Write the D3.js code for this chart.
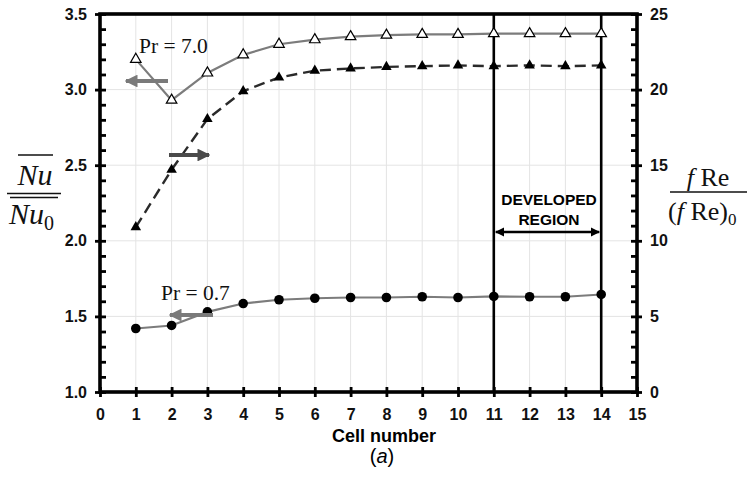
<!DOCTYPE html>
<html>
<head>
<meta charset="utf-8">
<script src="https://cdn.jsdelivr.net/npm/d3@7"></script>
<style>
  html, body { margin: 0; padding: 0; background: #fff; }
  svg { display: block; }
</style>
</head>
<body>
<svg id="chart" width="749" height="483"></svg>
<script>
// Cell-by-cell Nusselt-number and friction-factor ratios
const cells   = [1, 2, 3, 4, 5, 6, 7, 8, 9, 10, 11, 12, 13, 14];
const nuPr7   = [3.20, 2.93, 3.11, 3.23, 3.30, 3.33, 3.35, 3.36, 3.365, 3.365, 3.37, 3.37, 3.37, 3.37];
const fRePr7  = [10.9, 14.7, 18.05, 19.9, 20.8, 21.25, 21.4, 21.5, 21.55, 21.6, 21.55, 21.6, 21.55, 21.6];
const nuPr07  = [1.42, 1.44, 1.53, 1.585, 1.61, 1.62, 1.625, 1.625, 1.63, 1.625, 1.632, 1.63, 1.63, 1.645];
const xTicks      = d3.range(0, 16, 1);
const leftTicks   = [1.0, 1.5, 2.0, 2.5, 3.0, 3.5];
const leftMinor   = d3.range(10, 36, 1).map(v => v / 10);
const rightTicks  = [0, 5, 10, 15, 20, 25];
const rightMinor  = d3.range(0, 26, 1);
const developed   = [11, 14];

const svg = d3.select("#chart");
const L = 100, R = 637, T = 14, B = 392;

const serif = "'Liberation Serif', 'Times New Roman', serif";
const sans = "'Liberation Sans', Arial, sans-serif";

const x  = d3.scaleLinear().domain([0, 15]).range([L, R]);
const yL = d3.scaleLinear().domain([1, 3.5]).range([B, T]);
const yR = d3.scaleLinear().domain([0, 25]).range([B, T]);

// light grid
const grid = svg.append("g").attr("stroke", "#e4e4e4").attr("stroke-width", 1);
grid.selectAll("line.v").data(xTicks.filter(d => d > 0 && d < 15)).join("line")
  .attr("x1", d => x(d)).attr("x2", d => x(d)).attr("y1", T).attr("y2", B);
grid.selectAll("line.h").data(leftTicks.filter(d => d > 1 && d < 3.5)).join("line")
  .attr("x1", L).attr("x2", R).attr("y1", d => yL(d)).attr("y2", d => yL(d));

// developed-region bounds
svg.append("g").selectAll("line").data(developed).join("line")
  .attr("x1", d => x(d)).attr("x2", d => x(d)).attr("y1", T).attr("y2", B)
  .attr("stroke", "#000").attr("stroke-width", 2.6);

// arrow markers
const defs = svg.append("defs");
function marker(id, color, orient, size) {
  defs.append("marker").attr("id", id)
    .attr("viewBox", "0 0 10 10").attr("refX", 9).attr("refY", 5)
    .attr("markerWidth", size).attr("markerHeight", size)
    .attr("markerUnits", "strokeWidth").attr("orient", orient)
    .append("path").attr("d", "M0,0 L10,5 L0,10 Z").attr("fill", color);
}
marker("headGray", "#7a7a7a", "auto", 3.2);
marker("headDark", "#4a4a4a", "auto", 3.2);
marker("headBlack", "#000", "auto-start-reverse", 3.6);

// series lines
const lineL = d3.line().x((d, i) => x(cells[i])).y(d => yL(d));
const lineR = d3.line().x((d, i) => x(cells[i])).y(d => yR(d));

svg.append("path").datum(nuPr07).attr("d", lineL)
  .attr("fill", "none").attr("stroke", "#7c7c7c").attr("stroke-width", 2.2);
svg.append("path").datum(nuPr7).attr("d", lineL)
  .attr("fill", "none").attr("stroke", "#7c7c7c").attr("stroke-width", 2.2);
svg.append("path").datum(fRePr7).attr("d", lineR)
  .attr("fill", "none").attr("stroke", "#2a2a2a").attr("stroke-width", 2.4)
  .attr("stroke-dasharray", "11,6");

// markers
const tri = d3.symbol().type(d3.symbolTriangle).size(48);
svg.append("g").selectAll("path").data(nuPr7).join("path")
  .attr("d", tri).attr("transform", (d, i) => `translate(${x(cells[i])},${yL(d)})`)
  .attr("fill", "#fff").attr("stroke", "#000").attr("stroke-width", 1.2);
svg.append("g").selectAll("path").data(fRePr7).join("path")
  .attr("d", tri).attr("transform", (d, i) => `translate(${x(cells[i])},${yR(d)})`)
  .attr("fill", "#000");
svg.append("g").selectAll("circle").data(nuPr07).join("circle")
  .attr("cx", (d, i) => x(cells[i])).attr("cy", d => yL(d)).attr("r", 4.8)
  .attr("fill", "#000");

// axes
function styleAxis(g) {
  g.select(".domain").remove();
  g.selectAll(".tick line").attr("stroke", "#000").attr("stroke-width", 2.8);
  g.selectAll(".tick text")
    .attr("font-family", sans).attr("font-weight", "bold")
    .attr("font-size", 16).attr("fill", "#111");
}
// left: outward major ticks with labels, inward minor ticks
svg.append("g").attr("transform", `translate(${L},0)`)
  .call(d3.axisLeft(yL).tickValues(leftTicks).tickSize(5).tickPadding(8).tickFormat(d3.format(".1f")))
  .call(styleAxis);
svg.append("g").attr("transform", `translate(${L},0)`)
  .call(d3.axisRight(yL).tickValues(leftMinor).tickSize(6).tickFormat(""))
  .call(styleAxis);
// right
svg.append("g").attr("transform", `translate(${R},0)`)
  .call(d3.axisRight(yR).tickValues(rightTicks).tickSize(5).tickPadding(8))
  .call(styleAxis);
svg.append("g").attr("transform", `translate(${R},0)`)
  .call(d3.axisLeft(yR).tickValues(rightMinor).tickSize(6).tickFormat(""))
  .call(styleAxis);
// bottom
svg.append("g").attr("transform", `translate(0,${B})`)
  .call(d3.axisBottom(x).tickValues(xTicks).tickSize(5).tickPadding(12).tickFormat(d3.format("d")))
  .call(styleAxis);
svg.append("g").attr("transform", `translate(0,${B})`)
  .call(d3.axisTop(x).tickValues(xTicks).tickSize(5).tickFormat(""))
  .call(styleAxis);

// frame
svg.append("rect").attr("x", L).attr("y", T).attr("width", R - L).attr("height", B - T)
  .attr("fill", "none").attr("stroke", "#000").attr("stroke-width", 3.6);

// direction arrows
function arrow(x1, x2, y, id, color) {
  svg.append("line").attr("x1", x1).attr("x2", x2).attr("y1", y).attr("y2", y)
    .attr("stroke", color).attr("stroke-width", 4).attr("marker-end", `url(#${id})`);
}
arrow(168, 126, 81, "headGray", "#7a7a7a");
arrow(169, 209, 155, "headDark", "#4a4a4a");
arrow(213, 170, 315, "headGray", "#7a7a7a");

svg.append("line").attr("x1", x(developed[0]) + 2).attr("x2", x(developed[1]) - 2)
  .attr("y1", 232).attr("y2", 232).attr("stroke", "#000").attr("stroke-width", 2.6)
  .attr("marker-start", "url(#headBlack)").attr("marker-end", "url(#headBlack)");

// annotations
svg.append("text").attr("x", 139).attr("y", 53).attr("font-family", serif).attr("font-size", 21.5)
  .attr("fill", "#111").text("Pr = 7.0");
svg.append("text").attr("x", 161).attr("y", 300).attr("font-family", serif).attr("font-size", 21.5)
  .attr("fill", "#111").text("Pr = 0.7");

const dev = svg.append("text").attr("font-family", sans).attr("font-weight", "bold")
  .attr("font-size", 15.5).attr("text-anchor", "middle").attr("fill", "#000");
dev.append("tspan").attr("x", 549).attr("y", 205).text("DEVELOPED");
dev.append("tspan").attr("x", 549).attr("y", 225).text("REGION");

// axis titles
svg.append("text").attr("x", 384).attr("y", 442).attr("text-anchor", "middle")
  .attr("font-family", sans).attr("font-weight", "bold").attr("font-size", 18).text("Cell number");
const cap = svg.append("text").attr("x", 382).attr("y", 463).attr("text-anchor", "middle")
  .attr("font-family", sans).attr("font-size", 20);
cap.append("tspan").text("(");
cap.append("tspan").attr("font-style", "italic").text("a");
cap.append("tspan").text(")");

// left title: Nu-bar over Nu0-bar
const lt = svg.append("g").attr("font-family", serif).attr("fill", "#111");
lt.append("text").attr("x", 35).attr("y", 185).attr("text-anchor", "middle")
  .attr("font-size", 30).attr("font-style", "italic").text("Nu");
lt.append("line").attr("x1", 18).attr("x2", 53).attr("y1", 155).attr("y2", 155)
  .attr("stroke", "#111").attr("stroke-width", 1.4);
lt.append("line").attr("x1", 7).attr("x2", 61).attr("y1", 193.5).attr("y2", 193.5)
  .attr("stroke", "#111").attr("stroke-width", 1.4);
lt.append("line").attr("x1", 10).attr("x2", 58).attr("y1", 197.5).attr("y2", 197.5)
  .attr("stroke", "#111").attr("stroke-width", 1.4);
const den = lt.append("text").attr("x", 9).attr("y", 224).attr("font-size", 30);
den.append("tspan").attr("font-style", "italic").text("Nu");
den.append("tspan").attr("font-size", 20).attr("dy", 6).text("0");

// right title: f Re over (f Re)0
const rt = svg.append("g").attr("font-family", serif).attr("fill", "#111");
const num = rt.append("text").attr("x", 708).attr("y", 186).attr("text-anchor", "middle").attr("font-size", 26);
num.append("tspan").attr("font-style", "italic").text("f");
num.append("tspan").text(" Re");
rt.append("line").attr("x1", 670).attr("x2", 747).attr("y1", 192).attr("y2", 192)
  .attr("stroke", "#111").attr("stroke-width", 1.4);
const rden = rt.append("text").attr("x", 668).attr("y", 220).attr("font-size", 26);
rden.append("tspan").text("(");
rden.append("tspan").attr("font-style", "italic").text("f");
rden.append("tspan").text(" Re)");
rden.append("tspan").attr("font-size", 17).attr("dy", 5).text("0");
</script>
</body>
</html>
